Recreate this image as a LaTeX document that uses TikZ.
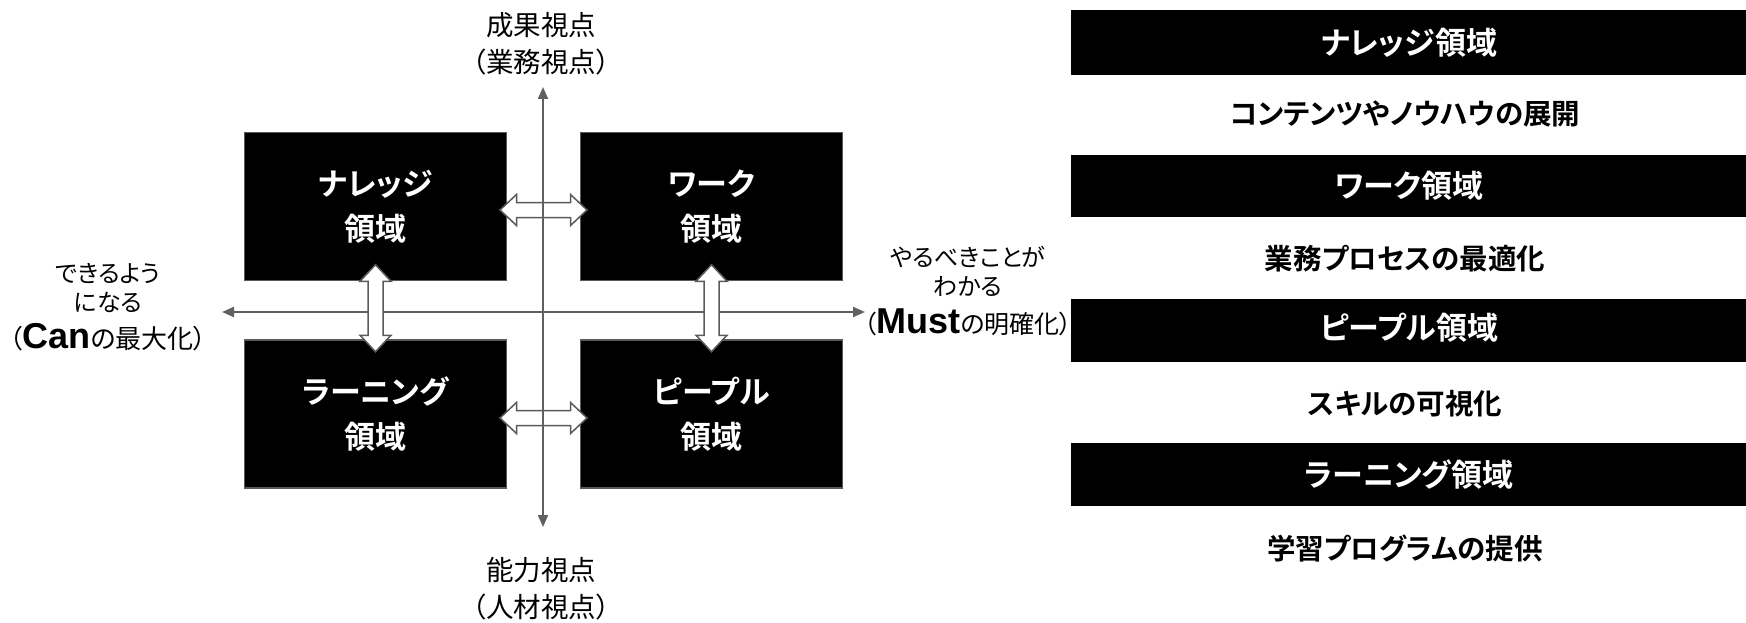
\documentclass[tikz,border=0pt]{standalone}
\usepackage{fontspec}
\usetikzlibrary{arrows.meta,calc}
\newfontfamily\jpr[RawFeature=+palt]{Noto Sans CJK JP}
\newfontfamily\jpb[RawFeature=+palt]{Noto Sans CJK JP Bold}
\newfontfamily\ars{Liberation Sans}
\definecolor{axisgray}{HTML}{606060}
\definecolor{bordergray}{HTML}{5A5A5A}
\tikzset{
  dbl/.style={draw=bordergray, line width=1.5pt, fill=white, line join=miter},
  hdarr/.pic={\path[dbl] (-43.5,0) -- (-27,-15.5) -- (-27,-7.5) -- (27,-7.5) -- (27,-15.5) -- (43.5,0) -- (27,15.5) -- (27,7.5) -- (-27,7.5) -- (-27,15.5) -- cycle;},
}
\begin{document}
\begin{tikzpicture}[x=1pt,y=-1pt,
  quad/.style={draw=bordergray, line width=1.5pt, fill=black, minimum width=262pt, minimum height=148pt, inner sep=0pt, text=white, align=center, font=\jpb\fontsize{31}{45}\selectfont},
  axisline/.style={draw=axisgray, line width=2pt, {Triangle[length=12pt,width=10pt]}-{Triangle[length=12pt,width=10pt]}},
  axislabel/.style={align=center, inner sep=0pt, font=\jpr\fontsize{27.5}{37}\selectfont},
  sidelabel/.style={align=center, inner sep=0pt, font=\jpr\fontsize{24}{29}\selectfont},
  bar/.style={fill=black, minimum width=675pt, inner sep=0pt},
  bartext/.style={text=white, inner sep=0pt, font=\jpb\fontsize{31}{36}\selectfont},
  desc/.style={inner sep=0pt, font=\jpb\fontsize{28.5}{34}\selectfont}
]
\useasboundingbox (0,0) rectangle (1746,623);

% quadrant boxes
\node[quad] (kn) at (375.5,206.5) {ナレッジ\\領域};
\node[quad] (wk) at (711.5,206.5) {ワーク\\領域};
\node[quad] (ln) at (375.5,414) {ラーニング\\領域};
\node[quad] (pp) at (711.5,414) {ピープル\\領域};

% axes
\coordinate (hleft) at (222,312);
\coordinate (hright) at (865,312);
\coordinate (vtop) at (543,87);
\coordinate (vbot) at (543,527);
\draw[axisline] (hleft) -- (hright);

% vertical double arrows
\pic[rotate=90] at ($(kn.south)!0.5!(ln.north)+(0,-2)$) {hdarr};
\pic[rotate=90] at ($(wk.south)!0.5!(pp.north)+(0,-2)$) {hdarr};
% horizontal double arrows
\pic at ($(kn.east)!0.5!(wk.west)+(0,3.5)$) {hdarr};
\pic at ($(ln.east)!0.5!(pp.west)+(0,4)$) {hdarr};

\draw[axisline] (vbot) -- (vtop);

% axis labels
\node[axislabel] (toplab) at (541,44) {成果視点\\（業務視点）};
\node[axislabel] (botlab) at (541,589) {能力視点\\（人材視点）};
\node[sidelabel] (canlab) at (108,307) {できるよう\\になる\\[8pt]{\fontsize{26}{29}\selectfont（{\ars\bfseries\fontsize{36}{29}\selectfont Can}の最大化）}};
\node[sidelabel] (mustlab) at (968,291) {やるべきことが\\わかる\\[9pt]{\fontsize{25}{29}\selectfont（{\ars\bfseries\fontsize{36}{29}\selectfont Must}の明確化）}};

% right-hand bars
\node[bar, minimum height=65pt] (b1) at (1408.5,42.5) {};
\node[bartext] (t1) at (1409,42.5) {ナレッジ領域};
\node[desc] (d1) at (1405,114) {コンテンツやノウハウの展開};
\node[bar, minimum height=62pt] (b2) at (1408.5,186) {};
\node[bartext] (t2) at (1409,186) {ワーク領域};
\node[desc] (d2) at (1405,259) {業務プロセスの最適化};
\node[bar, minimum height=63pt] (b3) at (1408.5,330.5) {};
\node[bartext] (t3) at (1409,328) {ピープル領域};
\node[desc] (d3) at (1405,404) {スキルの可視化};
\node[bar, minimum height=63pt] (b4) at (1408.5,474.5) {};
\node[bartext] (t4) at (1409,474.5) {ラーニング領域};
\node[desc] (d4) at (1405,548) {学習プログラムの提供};
\end{tikzpicture}
\end{document}
